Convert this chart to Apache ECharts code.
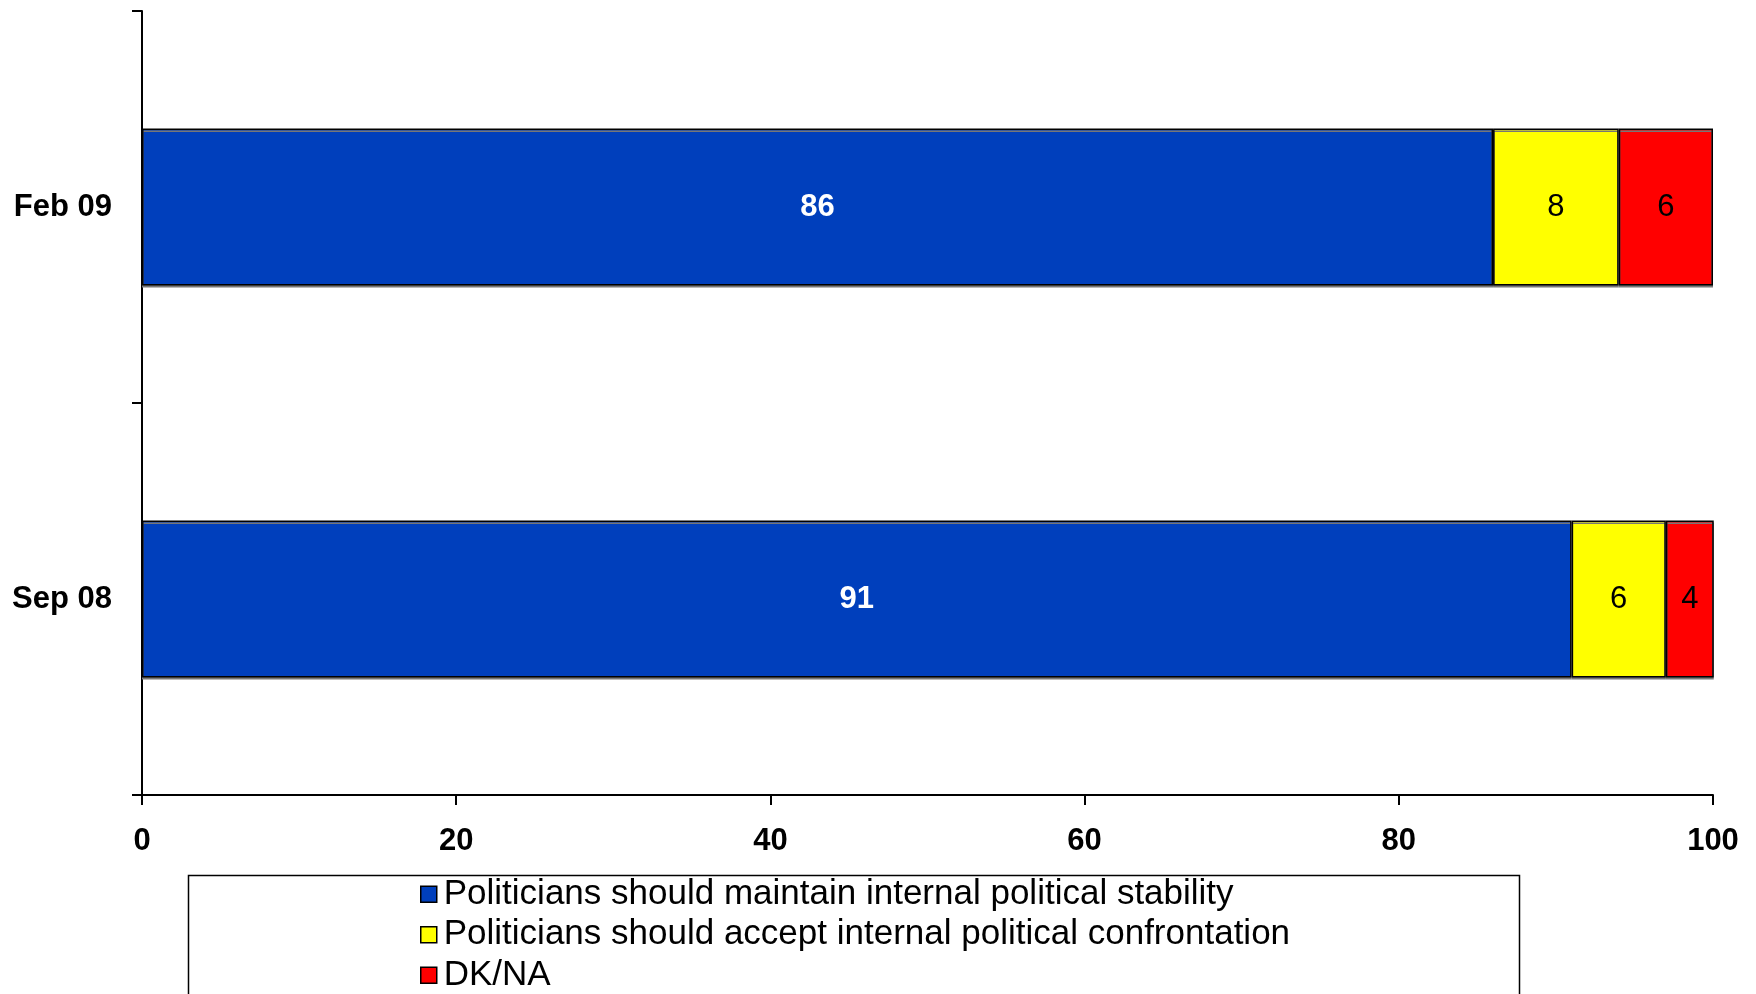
<!DOCTYPE html>
<html>
<head>
<meta charset="utf-8">
<script src="https://cdn.jsdelivr.net/npm/echarts@6/dist/echarts.min.js"></script>
<style>
html,body{margin:0;padding:0;background:#fff;}
#c{width:1756px;height:994px;}
</style>
</head>
<body>
<div id="c"></div>
<script>
const categories = ['Sep 08', 'Feb 09'];
const seriesNames = [
  'Politicians should maintain internal political stability',
  'Politicians should accept internal political confrontation',
  'DK/NA'
];
const maintainValues = [91, 86];
const acceptValues = [6, 8];
const dkValues = [4, 6];
const xTicks = [0, 20, 40, 60, 80, 100];

const FONT = '"Liberation Sans", Arial, sans-serif';
const colors = ['#003fbc', '#ffff00', '#ff0000'];
const labelColors = ['#ffffff', '#000000', '#000000'];
const labelWeights = ['bold', 'normal', 'normal'];
const valueSets = [maintainValues, acceptValues, dkValues];

const chart = echarts.init(document.getElementById('c'), null, {renderer: 'canvas'});

const series = valueSets.map((vals, i) => ({
  name: seriesNames[i],
  type: 'bar',
  stack: 'total',
  data: vals,
  barCategoryGap: '60%',
  itemStyle: {
    color: colors[i],
    borderColor: '#000',
    borderWidth: 1.5,
    shadowColor: '#777',
    shadowOffsetY: 2,
    shadowBlur: 0
  },
  label: {
    show: true,
    position: 'inside',
    color: labelColors[i],
    fontWeight: labelWeights[i],
    fontSize: 31,
    fontFamily: FONT
  },
  emphasis: {disabled: true}
}));

chart.setOption({
  animation: false,
  backgroundColor: '#fff',
  grid: {left: 142, right: 43, top: 11, bottom: 199, containLabel: false},
  xAxis: {
    type: 'value',
    min: xTicks[0],
    max: xTicks[xTicks.length - 1],
    interval: xTicks[1] - xTicks[0],
    axisLine: {show: true, lineStyle: {color: '#000', width: 2}},
    axisTick: {show: true, length: 10, lineStyle: {color: '#000', width: 2}},
    splitLine: {show: false},
    axisLabel: {
      color: '#000', fontSize: 31, fontWeight: 'bold', fontFamily: FONT, margin: 31
    }
  },
  yAxis: {
    type: 'category',
    data: categories,
    axisLine: {show: true, lineStyle: {color: '#000', width: 2}},
    axisTick: {show: true, length: 10, lineStyle: {color: '#000', width: 2}},
    axisLabel: {
      color: '#000', fontSize: 31, fontWeight: 'bold', fontFamily: FONT, margin: 30
    }
  },
  legend: {
    orient: 'vertical',
    left: 420,
    top: 876,
    icon: 'rect',
    itemWidth: 16,
    itemHeight: 16,
    itemGap: 4,
    padding: 0,
    selectedMode: false,
    itemStyle: {borderColor: '#000', borderWidth: 1.5},
    textStyle: {color: '#000', fontSize: 35, fontFamily: FONT, lineHeight: 36.5, padding: [0, 0, 0, 2]},
    data: seriesNames
  },
  graphic: [{
    type: 'rect',
    left: 186,
    top: 873,
    shape: {width: 1331, height: 140},
    style: {fill: 'none', stroke: '#000', lineWidth: 1.5},
    z: -1
  }],
  series: series
});
</script>
</body>
</html>
